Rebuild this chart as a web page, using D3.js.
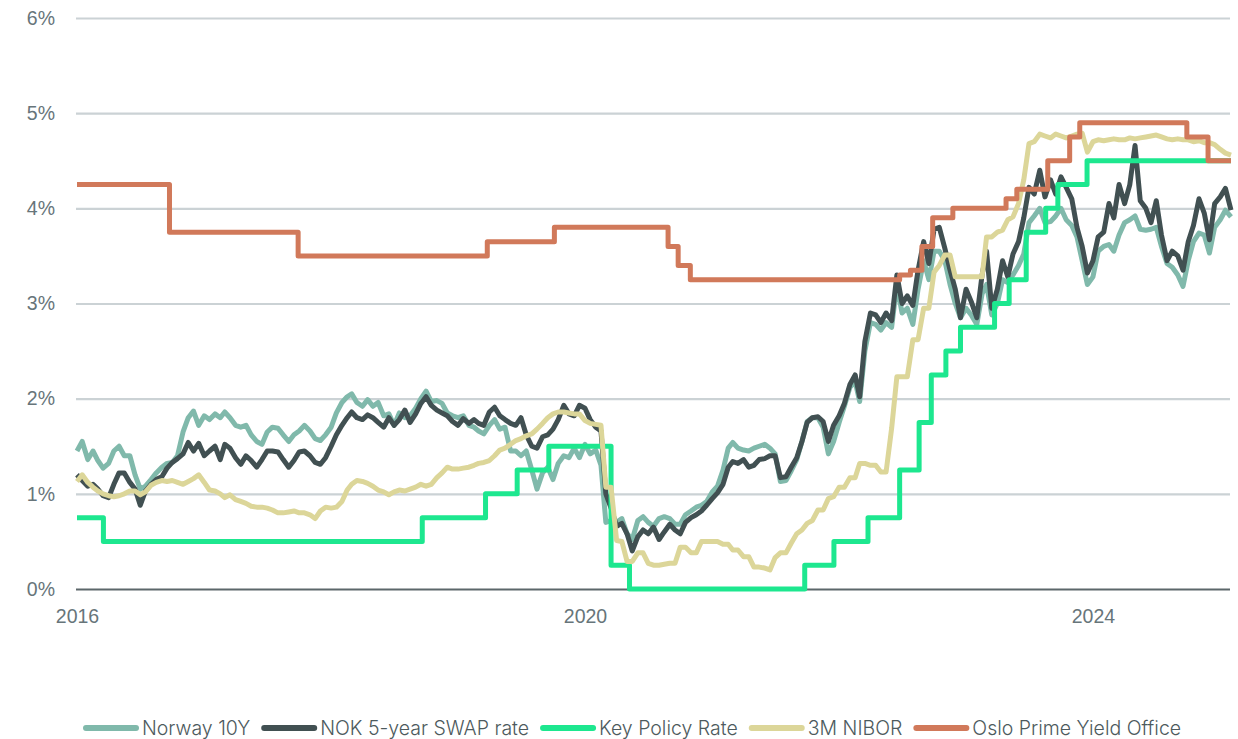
<!DOCTYPE html>
<html>
<head>
<meta charset="utf-8">
<script src="https://cdn.jsdelivr.net/npm/d3@7"></script>
<style>
  body { margin: 0; background: #fff; }
  svg { display: block; font-family: Inter, "Noto Sans", sans-serif; }
</style>
</head>
<body>
<svg id="chart" width="1238" height="739"></svg>
<script>
// semi-monthly observations (1st and 16th), Jan 2016 - Jan 2025, plus 1 Feb 2025
var norway10y = [
  1.45, 1.55, 1.36, 1.45, 1.35, 1.27, 1.32, 1.45, 1.50, 1.40, 1.40, 1.20, 1.05, 1.08, 1.15, 1.22, 1.28, 1.32, 1.33, 1.40, 1.65, 1.80, 1.87, 1.72,
  1.82, 1.78, 1.84, 1.80, 1.86, 1.80, 1.72, 1.70, 1.72, 1.62, 1.55, 1.52, 1.65, 1.70, 1.69, 1.62, 1.55, 1.62, 1.66, 1.72, 1.66, 1.58, 1.56, 1.62,
  1.70, 1.85, 1.96, 2.02, 2.05, 1.96, 1.92, 1.99, 1.92, 1.96, 1.82, 1.84, 1.72, 1.85, 1.80, 1.82, 1.90, 2.00, 2.08, 1.97, 1.98, 1.95, 1.85, 1.82,
  1.80, 1.82, 1.72, 1.70, 1.66, 1.63, 1.72, 1.78, 1.68, 1.70, 1.45, 1.45, 1.40, 1.45, 1.25, 1.05, 1.22, 1.28, 1.15, 1.32, 1.40, 1.38, 1.48, 1.38,
  1.52, 1.42, 1.46, 1.30, 0.70, 0.72, 0.70, 0.74, 0.58, 0.52, 0.72, 0.76, 0.70, 0.66, 0.74, 0.76, 0.74, 0.68, 0.68, 0.78, 0.82, 0.86, 0.88, 0.92,
  1.02, 1.08, 1.25, 1.48, 1.54, 1.48, 1.46, 1.45, 1.48, 1.50, 1.52, 1.48, 1.42, 1.13, 1.14, 1.24, 1.36, 1.55, 1.76, 1.80, 1.80, 1.70, 1.42, 1.55,
  1.75, 1.92, 2.12, 2.18, 1.97, 2.50, 2.80, 2.78, 2.72, 2.80, 2.75, 3.20, 2.90, 2.95, 2.78, 3.15, 3.45, 3.25, 3.55, 3.55, 3.45, 3.20, 3.00, 2.85,
  2.95, 2.88, 2.78, 3.10, 3.20, 2.88, 3.00, 3.25, 3.22, 3.30, 3.40, 3.52, 3.85, 3.92, 4.00, 3.85, 3.86, 3.92, 4.00, 3.88, 3.82, 3.70, 3.45, 3.20,
  3.28, 3.55, 3.60, 3.62, 3.55, 3.72, 3.85, 3.88, 3.92, 3.78, 3.77, 3.78, 3.80, 3.60, 3.42, 3.38, 3.30, 3.18, 3.45, 3.65, 3.74, 3.72, 3.53, 3.80,
  3.88, 3.98, 3.91
];
var nokSwap5y = [
  1.20, 1.14, 1.08, 1.10, 1.05, 0.98, 0.96, 1.10, 1.22, 1.22, 1.12, 1.05, 0.88, 1.03, 1.10, 1.15, 1.18, 1.27, 1.33, 1.37, 1.42, 1.54, 1.45, 1.53,
  1.40, 1.45, 1.50, 1.36, 1.52, 1.48, 1.38, 1.31, 1.40, 1.35, 1.28, 1.36, 1.45, 1.45, 1.44, 1.36, 1.28, 1.35, 1.44, 1.45, 1.40, 1.33, 1.31, 1.38,
  1.50, 1.62, 1.72, 1.80, 1.86, 1.80, 1.78, 1.83, 1.80, 1.75, 1.70, 1.80, 1.72, 1.78, 1.88, 1.75, 1.84, 1.95, 2.02, 1.93, 1.88, 1.85, 1.82, 1.76,
  1.72, 1.79, 1.74, 1.78, 1.74, 1.72, 1.86, 1.91, 1.82, 1.78, 1.74, 1.72, 1.80, 1.62, 1.50, 1.48, 1.60, 1.62, 1.68, 1.78, 1.93, 1.84, 1.82, 1.93,
  1.90, 1.78, 1.70, 1.66, 1.00, 0.85, 0.66, 0.69, 0.58, 0.40, 0.55, 0.62, 0.58, 0.65, 0.52, 0.60, 0.68, 0.62, 0.58, 0.70, 0.75, 0.78, 0.82, 0.88,
  0.95, 1.01, 1.10, 1.28, 1.34, 1.32, 1.36, 1.28, 1.30, 1.36, 1.37, 1.40, 1.40, 1.17, 1.18, 1.28, 1.38, 1.55, 1.75, 1.80, 1.81, 1.76, 1.55, 1.72,
  1.82, 1.95, 2.15, 2.25, 2.02, 2.60, 2.90, 2.88, 2.80, 2.90, 2.82, 3.30, 3.00, 3.08, 2.98, 3.35, 3.65, 3.42, 3.78, 3.80, 3.58, 3.35, 3.15, 2.85,
  3.15, 3.02, 2.85, 3.30, 3.55, 2.95, 3.15, 3.45, 3.28, 3.52, 3.65, 3.90, 4.22, 4.15, 4.40, 4.12, 4.30, 4.15, 4.33, 4.22, 4.10, 3.80, 3.60, 3.32,
  3.45, 3.70, 3.75, 4.05, 3.90, 4.25, 4.05, 4.25, 4.66, 4.08, 4.00, 3.85, 4.08, 3.72, 3.45, 3.55, 3.50, 3.35, 3.65, 3.82, 4.10, 3.95, 3.67, 4.05,
  4.12, 4.21, 3.98
];
var nibor3m = [
  1.13, 1.20, 1.12, 1.07, 1.03, 1.00, 0.98, 0.97, 0.98, 1.00, 1.03, 1.03, 0.99, 1.02, 1.09, 1.12, 1.14, 1.13, 1.14, 1.12, 1.10, 1.13, 1.16, 1.20,
  1.12, 1.04, 1.03, 1.00, 0.96, 0.99, 0.94, 0.92, 0.90, 0.87, 0.86, 0.86, 0.85, 0.83, 0.80, 0.80, 0.81, 0.82, 0.80, 0.80, 0.78, 0.74, 0.82, 0.86,
  0.85, 0.86, 0.92, 1.04, 1.10, 1.14, 1.13, 1.11, 1.08, 1.04, 1.02, 0.99, 1.02, 1.04, 1.03, 1.05, 1.07, 1.10, 1.08, 1.10, 1.17, 1.22, 1.28, 1.26,
  1.26, 1.27, 1.28, 1.30, 1.32, 1.33, 1.35, 1.40, 1.46, 1.48, 1.52, 1.56, 1.58, 1.61, 1.63, 1.68, 1.74, 1.80, 1.84, 1.86, 1.86, 1.85, 1.84, 1.84,
  1.77, 1.74, 1.73, 1.72, 1.07, 1.07, 0.51, 0.50, 0.29, 0.29, 0.38, 0.38, 0.27, 0.25, 0.25, 0.26, 0.27, 0.27, 0.44, 0.44, 0.38, 0.38, 0.50, 0.50,
  0.50, 0.50, 0.47, 0.47, 0.41, 0.41, 0.34, 0.34, 0.23, 0.23, 0.22, 0.20, 0.33, 0.38, 0.38, 0.48, 0.58, 0.62, 0.69, 0.72, 0.83, 0.83, 0.95, 0.97,
  1.07, 1.07, 1.17, 1.17, 1.32, 1.32, 1.30, 1.30, 1.23, 1.23, 1.69, 2.23, 2.23, 2.23, 2.62, 2.62, 2.95, 2.95, 3.33, 3.40, 3.51, 3.51, 3.28, 3.28,
  3.28, 3.28, 3.28, 3.28, 3.70, 3.70, 3.75, 3.77, 3.88, 3.91, 4.05, 4.30, 4.68, 4.70, 4.78, 4.76, 4.74, 4.78, 4.76, 4.74, 4.76, 4.78, 4.79, 4.59,
  4.70, 4.72, 4.71, 4.72, 4.73, 4.72, 4.72, 4.74, 4.73, 4.74, 4.75, 4.76, 4.77, 4.75, 4.73, 4.72, 4.73, 4.72, 4.72, 4.70, 4.71, 4.69, 4.69, 4.67,
  4.62, 4.58, 4.56
];

// step series: date of change and new level
var policyDates = ["2016-01-01", "2016-03-17", "2018-09-20", "2019-03-21", "2019-06-20", "2019-09-19", "2020-03-16", "2020-05-08",
  "2021-09-24", "2021-12-17", "2022-03-25", "2022-06-24", "2022-08-19", "2022-09-23", "2022-11-04", "2022-12-16",
  "2023-03-24", "2023-05-05", "2023-06-23", "2023-08-18", "2023-09-22", "2023-12-15", "2025-02-01"];
var policyRate = [0.75, 0.5, 0.75, 1.0, 1.25, 1.5, 0.25, 0, 0.25, 0.5, 0.75, 1.25, 1.75, 2.25, 2.5, 2.75, 3.0, 3.25, 3.75, 4.0, 4.25, 4.5, 4.5];

var osloDates = ["2016-01-01", "2016-09-23", "2017-09-28", "2019-03-26", "2019-10-05", "2020-08-27", "2020-09-25", "2020-10-30",
  "2022-06-24", "2022-07-25", "2022-08-27", "2022-09-27", "2022-11-24", "2023-04-26", "2023-05-27", "2023-08-24",
  "2023-10-26", "2023-11-24", "2024-09-27", "2024-11-27", "2025-02-01"];
var osloPrime = [4.25, 3.75, 3.5, 3.65, 3.8, 3.6, 3.4, 3.25, 3.3, 3.35, 3.6, 3.9, 4.0, 4.1, 4.2, 4.5, 4.75, 4.9, 4.75, 4.5, 4.5];

var yTicks = [0, 1, 2, 3, 4, 5, 6];
var xTickYears = [2016, 2020, 2024];

var seriesNames = ["Norway 10Y", "NOK 5-year SWAP rate", "Key Policy Rate", "3M NIBOR", "Oslo Prime Yield Office"];
var seriesColors = ["#80b9ab", "#415052", "#1de78f", "#dcd699", "#d1795a"];

(function() {
  // semi-monthly date axis for the observed series
  var obsDates = [];
  d3.utcMonth.range(new Date(Date.UTC(2016, 0, 1)), new Date(Date.UTC(2025, 1, 1))).forEach(function(m) {
    obsDates.push(m);
    obsDates.push(new Date(Date.UTC(m.getUTCFullYear(), m.getUTCMonth(), 16)));
  });
  obsDates.push(new Date(Date.UTC(2025, 1, 1)));

  function zip(dates, vals) {
    return vals.map(function(v, i) { return {date: dates[i], value: v}; });
  }
  var parse = d3.utcParse("%Y-%m-%d");

  var series = [
    {name: seriesNames[0], color: seriesColors[0], data: zip(obsDates, norway10y), curve: d3.curveLinear},
    {name: seriesNames[1], color: seriesColors[1], data: zip(obsDates, nokSwap5y), curve: d3.curveLinear},
    {name: seriesNames[2], color: seriesColors[2], data: zip(policyDates.map(parse), policyRate), curve: d3.curveStepAfter},
    {name: seriesNames[3], color: seriesColors[3], data: zip(obsDates, nibor3m), curve: d3.curveLinear},
    {name: seriesNames[4], color: seriesColors[4], data: zip(osloDates.map(parse), osloPrime), curve: d3.curveStepAfter}
  ];

  var svg = d3.select("#chart");
  var plotLeft = 77, plotRight = 1231, plotTop = 18, plotBottom = 589;
  var fontSize = "19.5px";

  var x = d3.scaleUtc()
    .domain([new Date(Date.UTC(2016, 0, 1)), new Date(Date.UTC(2025, 1, 1))])
    .range([plotLeft, plotRight]);
  var y = d3.scaleLinear().domain([0, 6]).range([plotBottom, plotTop]);

  // gridlines + y labels
  var yAxis = svg.append("g")
    .attr("transform", "translate(" + (plotLeft - 1) + ",0)")
    .call(d3.axisLeft(y).tickValues(yTicks).tickSize(-(plotRight - plotLeft)).tickPadding(21)
      .tickFormat(function(d) { return d + "%"; }));
  yAxis.select(".domain").remove();
  yAxis.selectAll(".tick line")
    .attr("stroke", function(d) { return d === 0 ? "#5c676a" : "#cbd2d5"; })
    .attr("stroke-width", 2.2);
  yAxis.selectAll(".tick text")
    .attr("fill", "#67757a")
    .style("font-size", fontSize)
    .style("font-weight", 300);

  // x labels
  var xAxis = svg.append("g")
    .attr("transform", "translate(0," + plotBottom + ")")
    .call(d3.axisBottom(x)
      .tickValues(xTickYears.map(function(yr) { return new Date(Date.UTC(yr, 0, 1)); }))
      .tickSize(0).tickPadding(20)
      .tickFormat(d3.utcFormat("%Y")));
  xAxis.select(".domain").remove();
  xAxis.selectAll(".tick text")
    .attr("fill", "#67757a")
    .style("font-size", fontSize)
    .style("font-weight", 300);

  // lines
  series.forEach(function(s) {
    var line = d3.line()
      .x(function(d) { return x(d.date); })
      .y(function(d) { return y(d.value); })
      .curve(s.curve);
    svg.append("path")
      .datum(s.data)
      .attr("fill", "none")
      .attr("stroke", s.color)
      .attr("stroke-width", 5)
      .attr("stroke-linejoin", "round")
      .attr("d", line);
  });

  // legend
  var legend = svg.append("g").attr("transform", "translate(0,728)");
  var lx = 86;
  series.forEach(function(s) {
    legend.append("line")
      .attr("x1", lx).attr("x2", lx + 50)
      .attr("y1", 0).attr("y2", 0)
      .attr("stroke", s.color)
      .attr("stroke-width", 6)
      .attr("stroke-linecap", "round");
    var t = legend.append("text")
      .attr("x", lx + 56)
      .attr("y", 7)
      .attr("fill", "#4d5a5d")
      .style("font-size", fontSize)
      .style("font-weight", 300)
      .text(s.name);
    lx += 56 + t.node().getComputedTextLength() + 14;
  });
})();
</script>
</body>
</html>
